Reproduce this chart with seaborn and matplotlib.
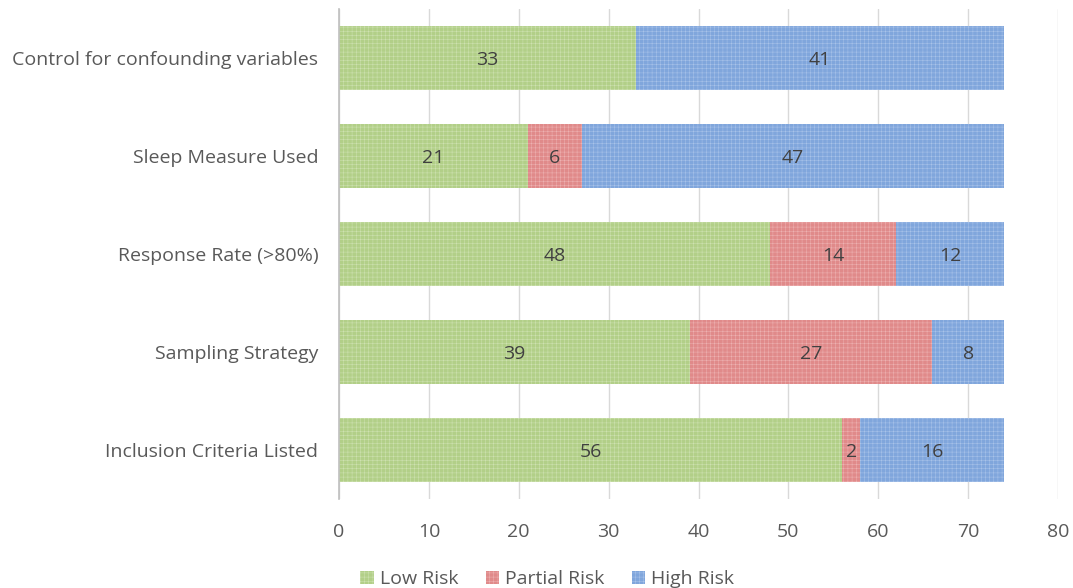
import numpy as np
import pandas as pd
import matplotlib
matplotlib.use("Agg")
import matplotlib.pyplot as plt
import seaborn as sns
from matplotlib.patches import Patch

categories = ["Control for confounding variables", "Sleep Measure Used",
              "Response Rate (>80%)", "Sampling Strategy", "Inclusion Criteria Listed"]
low_risk = [33, 21, 48, 39, 56]
partial_risk = [0, 6, 14, 27, 2]
high_risk = [41, 47, 12, 8, 16]

sns.set_theme(style="white")
plt.rcParams['font.family'] = ['Open Sans', 'DejaVu Sans']
plt.rcParams['hatch.linewidth'] = 0.35

low = np.array(low_risk)
part = np.array(partial_risk)
high = np.array(high_risk)
df = pd.DataFrame({"cat": categories, "c1": low, "c2": low + part, "c3": low + part + high})

colors = {"Low Risk": "#b2cf88", "Partial Risk": "#e08a8a", "High Risk": "#80a6dc"}
hatch_col = {"Low Risk": "#cfe2b3", "Partial Risk": "#eeb3b3", "High Risk": "#aac4ea"}

fig = plt.figure(figsize=(10.73, 5.88), dpi=100)
ax = fig.add_axes([339/1073, 1-499/588, (1058-339)/1073, 490/588])

for col, name in [("c3", "High Risk"), ("c2", "Partial Risk"), ("c1", "Low Risk")]:
    n0 = len(ax.patches)
    sns.barplot(data=df, y="cat", x=col, orient="h", color=colors[name],
                width=0.66, ax=ax, saturation=1)
    for p in ax.patches[n0:]:
        p.set_hatch("++++")
        p.set_edgecolor(hatch_col[name])
        p.set_linewidth(0)

# labels
for i in range(len(categories)):
    starts = [0, low[i], low[i] + part[i]]
    vals = [low[i], part[i], high[i]]
    for s, v in zip(starts, vals):
        if v > 0:
            ax.text(s + v / 2, i + 0.02, str(v), ha="center", va="center",
                    fontsize=14, color="#404040")

ax.set_xlim(0, 80)
ax.set_ylim(4.5, -0.5)
ax.set_xticks(range(0, 81, 10))
ax.xaxis.grid(True, color="#d9d9d9", linewidth=1)
ax.set_axisbelow(True)
for s in ["top", "right", "bottom"]:
    ax.spines[s].set_visible(False)
ax.spines["left"].set_color("#bfbfbf")
ax.spines["left"].set_linewidth(1.2)
ax.set_xlabel("")
ax.set_ylabel("")
ax.tick_params(axis="x", labelsize=14, colors="#595959", length=0, pad=17)
ax.tick_params(axis="y", labelsize=14, colors="#595959", length=0, pad=15)

handles = [Patch(facecolor=colors[n], edgecolor=hatch_col[n], hatch="++++", linewidth=0, label=n)
           for n in ["Low Risk", "Partial Risk", "High Risk"]]
leg = fig.legend(handles=handles, loc="lower center", bbox_to_anchor=(0.51, -0.03), ncol=3,
                 frameon=False, fontsize=14, handlelength=0.7, handleheight=0.7,
                 handletextpad=0.3, columnspacing=1.4)
for t in leg.get_texts():
    t.set_color("#595959")

fig.savefig("out.png", dpi=100)
